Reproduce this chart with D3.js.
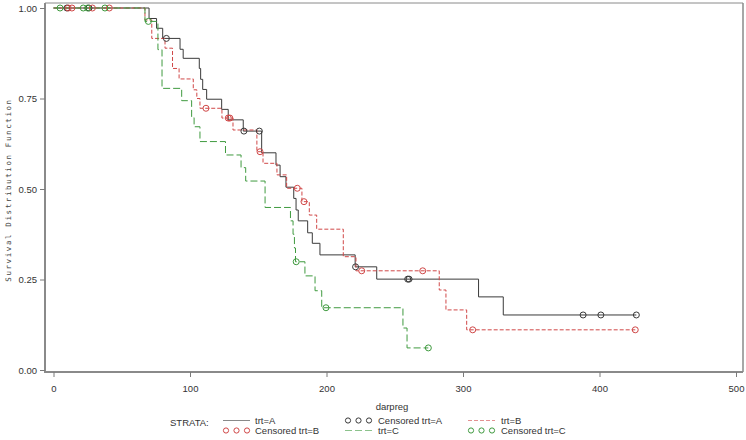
<!DOCTYPE html>
<html><head><meta charset="utf-8">
<script src="https://cdn.jsdelivr.net/npm/d3@7"></script>
<style>body{margin:0;background:#fff}svg{display:block}text{font-family:"Liberation Sans",Arial,sans-serif}</style>
</head><body>
<svg id="c" width="746" height="440"></svg>
<script>
// ---- data ----
const xTicks = [0, 100, 200, 300, 400, 500];
const yTicks = [0, 0.25, 0.5, 0.75, 1.0];

const timesA = [0, 70, 75.5, 80, 92.7, 95, 106.8, 107.8, 109.3, 112.2, 123.2, 128, 139, 152.5, 163, 166, 170.3, 176, 177.7, 179.3, 186.2, 189.6, 195.2, 221, 236.8, 311.4, 329.5];
const survA  = [1, 0.971, 0.944, 0.916, 0.886, 0.861, 0.833, 0.803, 0.775, 0.748, 0.720, 0.691, 0.660, 0.600, 0.566, 0.534, 0.505, 0.474, 0.442, 0.412, 0.379, 0.350, 0.318, 0.285, 0.251, 0.202, 0.152];
const censA  = [9.8, 26, 82.7, 139.5, 150.8, 221.3, 259.5, 260.5, 388, 401, 427];

const timesB = [0, 67, 72, 81.7, 87.2, 92, 102.4, 105, 107.3, 123.4, 131.5, 149, 153.5, 163.7, 170.8, 182, 187.4, 192.8, 212.3, 221.6, 282.6, 287.5, 302.7];
const survB  = [1, 0.967, 0.916, 0.889, 0.833, 0.804, 0.774, 0.750, 0.723, 0.696, 0.663, 0.603, 0.571, 0.539, 0.502, 0.465, 0.428, 0.389, 0.313, 0.274, 0.221, 0.166, 0.111];
const censB  = [10.8, 13.5, 28.5, 40.9, 111.7, 128, 129.2, 151.3, 178.6, 183.5, 225.8, 270.5, 307.1, 426.2];

const timesC = [0, 67, 76.5, 79.5, 93.9, 101.2, 103, 107.3, 126, 137.4, 140.8, 155, 173.6, 175.5, 176.5, 177.3, 184.2, 191.6, 196.5, 256, 259];
const survC  = [1, 0.963, 0.885, 0.778, 0.744, 0.697, 0.672, 0.631, 0.594, 0.559, 0.522, 0.449, 0.412, 0.375, 0.337, 0.299, 0.260, 0.219, 0.172, 0.116, 0.061];
const censC  = [4.8, 21.8, 25, 37.7, 69.5, 177.8, 199.6, 274.6];

const groups = [
  {name:"A", times:timesA, surv:survA, cens:censA, color:"#3a3a3a", dash:null},
  {name:"B", times:timesB, surv:survB, cens:censB, color:"#d04848", dash:"4,2"},
  {name:"C", times:timesC, surv:survC, cens:censC, color:"#3f9a3f", dash:"7,3"}
];

// ---- layout ----
const svg = d3.select("#c");
const frame = {l:45, t:3, r:743, b:372};
const x = d3.scaleLinear().domain([0, 500]).range([53.5, 736]);
const y = d3.scaleLinear().domain([0, 1]).range([370, 8]);

// frame
svg.append("line").attr("x1",frame.l).attr("x2",frame.r).attr("y1",frame.t).attr("y2",frame.t).attr("stroke","#8a8a8a").attr("stroke-width",1);
svg.append("line").attr("x1",frame.r).attr("x2",frame.r).attr("y1",frame.t).attr("y2",frame.b).attr("stroke","#8a8a8a").attr("stroke-width",1.5);
svg.append("line").attr("x1",frame.l).attr("x2",frame.l).attr("y1",frame.t).attr("y2",frame.b+1).attr("stroke","#8a8a8a").attr("stroke-width",2);
svg.append("line").attr("x1",frame.l).attr("x2",frame.r).attr("y1",frame.b).attr("y2",frame.b).attr("stroke","#8a8a8a").attr("stroke-width",2);

// axes
const gx = svg.append("g").attr("transform",`translate(0,${frame.b})`)
  .call(d3.axisBottom(x).tickValues(xTicks).tickSize(5).tickPadding(8).tickFormat(d3.format("d")));
const gy = svg.append("g").attr("transform",`translate(${frame.l},0)`)
  .call(d3.axisLeft(y).tickValues(yTicks).tickSize(5).tickPadding(3).tickFormat(d3.format(".2f")));
[gx, gy].forEach(g => {
  g.select(".domain").remove();
  g.selectAll(".tick line").attr("stroke","#7a7a7a");
  g.selectAll(".tick text").attr("fill","#333").style("font-size","9.5px").style("font-family","'Liberation Sans',Arial,sans-serif");
});

// axis labels
svg.append("text").attr("x", 392).attr("y", 410).attr("text-anchor","middle")
  .style("font-size","9.5px").attr("fill","#333").text("darpreg");
svg.append("text").attr("transform","translate(11,190) rotate(-90)").attr("text-anchor","middle")
  .style("font-family","'DejaVu Sans Mono',monospace").style("font-size","7.5px").style("letter-spacing","1.6px")
  .attr("fill","#444").text("Survival Distribution Function");

// curves
const line = d3.line().x(d => x(d[0])).y(d => y(d[1])).curve(d3.curveStepAfter);
function survAt(g, t){ let s = g.surv[0]; for (let i=0;i<g.times.length;i++){ if (g.times[i] <= t) s = g.surv[i]; } return s; }

groups.forEach(g => {
  const pts = g.times.map((t,i) => [t, g.surv[i]]);
  const end = Math.max(d3.max(g.times), d3.max(g.cens));
  pts.push([end, g.surv[g.surv.length-1]]);
  const p = svg.append("path").attr("d", line(pts)).attr("fill","none")
    .attr("stroke", g.color).attr("stroke-width", 1);
  if (g.dash) p.attr("stroke-dasharray", g.dash);
});
groups.forEach(g => {
  svg.append("g").selectAll("circle").data(g.cens).join("circle")
    .attr("cx", d => x(d)).attr("cy", d => y(survAt(g, d))).attr("r", 3)
    .attr("fill","none").attr("stroke", g.color).attr("stroke-width", 1);
});

// legend
const lg = svg.append("g").style("font-size","9.5px");
lg.append("text").attr("x",170).attr("y",426).attr("fill","#333").text("STRATA:");
function lineSample(x0, yy, g){ const l = lg.append("line").attr("x1",x0).attr("x2",x0+27).attr("y1",yy).attr("y2",yy).attr("stroke",g.color).attr("stroke-width",1).attr("stroke-opacity",0.6); if (g.dash) l.attr("stroke-dasharray",g.dash); }
function circSample(x0, yy, g){ [0,10.5,21].forEach(dx => lg.append("circle").attr("cx",x0+dx).attr("cy",yy).attr("r",2.6).attr("fill","none").attr("stroke",g.color).attr("stroke-width",1)); }
const r1 = 420.5, r2 = 430.5;
lineSample(223, r1, groups[0]); lg.append("text").attr("x",255).attr("y",424).attr("fill","#333").text("trt=A");
circSample(348, r1, groups[0]); lg.append("text").attr("x",378).attr("y",424).attr("fill","#333").text("Censored trt=A");
lineSample(468, r1, groups[1]); lg.append("text").attr("x",501).attr("y",424).attr("fill","#333").text("trt=B");
circSample(226, r2, groups[1]); lg.append("text").attr("x",255).attr("y",434).attr("fill","#333").text("Censored trt=B");
lineSample(345, r2, groups[2]); lg.append("text").attr("x",378).attr("y",434).attr("fill","#333").text("trt=C");
circSample(471, r2, groups[2]); lg.append("text").attr("x",501).attr("y",434).attr("fill","#333").text("Censored trt=C");
</script>
</body></html>
